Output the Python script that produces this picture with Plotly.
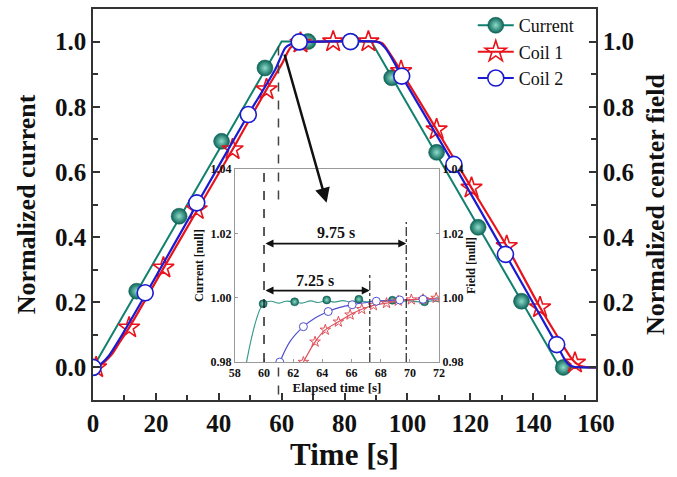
import plotly.graph_objects as go

# ---------------- main chart data ----------------
current_line_x = [0, 60, 88.5, 148.5, 160]
current_line_y = [0, 1.0, 1.0, 0.0, 0.0]
current_mk_x = [0, 13.9, 27.4, 40.9, 54.7, 68.4, 82.1, 95.0, 109.3, 122.5, 136.3, 149.6]
current_mk_y = [0, 0.234, 0.464, 0.694, 0.919, 1.0, 1.0, 0.889, 0.66, 0.43, 0.203, 0.0]

coil1_line_x = [0, 2, 4, 6, 8, 11.5, 22.4, 33, 44.4, 55.2, 60, 62.7, 64.2, 65.9, 67.5, 69.2, 71,
                72, 90, 92, 94, 98, 109.3, 120.4, 131.6, 142.2, 150, 152, 153.5, 155, 157, 160]
coil1_line_y = [0, 0.004, 0.02, 0.04, 0.07, 0.122, 0.304, 0.48, 0.669, 0.853, 0.93, 0.98, 0.99,
                0.9947, 0.9976, 0.999, 0.9995, 1.0, 1.0, 0.995, 0.97, 0.909, 0.73, 0.551, 0.372,
                0.184, 0.06, 0.03, 0.014, 0.005, 0.001, 0.0]
coil1_mk_x = [1.0, 11.5, 22.4, 33.0, 44.4, 55.2, 66.0, 76.4, 87.6, 98.0, 109.3, 120.4, 131.6, 142.2, 153.3]
coil1_mk_y = [0.0, 0.122, 0.306, 0.485, 0.669, 0.853, 0.996, 1.0, 1.0, 0.909, 0.73, 0.551, 0.372, 0.184, 0.014]

coil2_line_x = [0, 1.5, 3, 5, 8, 17.1, 33, 49.4, 58, 61.1, 62.7, 64.4, 66, 67.7, 69.3, 71, 72,
                90, 91.5, 93, 95, 98.2, 114.8, 131.2, 147.5, 150, 151.5, 153, 160]
coil2_line_y = [0, 0.005, 0.015, 0.035, 0.08, 0.23, 0.5, 0.776, 0.915, 0.98, 0.991, 0.9957, 0.9978,
                0.9989, 0.9993, 0.9995, 1.0, 1.0, 0.995, 0.98, 0.95, 0.894, 0.623, 0.347, 0.07,
                0.025, 0.008, 0.002, 0.0]
coil2_mk_x = [0, 16.6, 33.0, 49.4, 65.6, 81.9, 98.2, 114.8, 131.2, 147.5]
coil2_mk_y = [0, 0.229, 0.505, 0.776, 0.999, 1.0, 0.894, 0.623, 0.347, 0.07]

# ---------------- inset data (zoom 58-72 s) ----------------
in_cur_x = [58.8, 59.94, 60.5, 61.0, 61.5, 62.1, 62.6, 63.2, 63.7, 64.3, 64.8, 65.4, 65.9, 66.5,
            67.0, 67.6, 68.2, 68.8, 69.3, 69.9, 70.4, 71.0, 71.5, 72.0]
in_cur_y = [0.98, 0.9981, 0.9989, 0.9983, 0.9989, 0.9987, 0.9983, 0.9990, 0.9985, 0.9991, 0.9986,
            0.9991, 0.9987, 0.9992, 0.9987, 0.9991, 0.9988, 0.9992, 0.9988, 0.9991, 0.9988, 0.9987,
            0.9990, 0.9988]
in_cur_mk_x = [59.94, 62.1, 64.3, 66.5, 68.8, 71.0]
in_cur_mk_y = [0.9981, 0.9987, 0.9993, 0.9995, 0.9992, 0.9987]

in_c1_x = [62.7, 63.5, 64.2, 65.1, 65.9, 66.7, 67.5, 68.4, 69.2, 70.1, 70.9, 71.8, 72.0]
in_c1_y = [0.98, 0.9863, 0.99, 0.9925, 0.9947, 0.9964, 0.9976, 0.9983, 0.999, 0.9994, 0.9995,
           0.9999, 0.9999]
in_c1_mk_x = [62.7, 63.5, 64.2, 65.1, 65.9, 66.7, 67.5, 68.4, 69.2, 70.1, 70.9, 71.8]
in_c1_mk_y = [0.98, 0.9863, 0.99, 0.9925, 0.9947, 0.9964, 0.9976, 0.9983, 0.999, 0.9994, 0.9995, 0.9999]

in_c2_x = [61.08, 61.8, 62.7, 63.5, 64.4, 65.2, 66.04, 67.7, 69.3, 70.9, 72.0]
in_c2_y = [0.98, 0.9865, 0.991, 0.9937, 0.9957, 0.997, 0.9978, 0.9989, 0.9993, 0.9995, 0.9996]
in_c2_mk_x = [61.08, 62.7, 64.4, 66.04, 67.7, 69.3, 70.9]
in_c2_mk_y = [0.98, 0.991, 0.9957, 0.9978, 0.9989, 0.9993, 0.9995]

series_names = ["Current", "Coil 1", "Coil 2"]

TEAL = "#11806f"
RED = "#e8141c"
BLUE = "#1a1ad0"
FONT = "Liberation Serif"

fig = go.Figure()

teal_marker = dict(symbol="circle", size=16, color="#0a6457",
                   gradient=dict(type="radial", color="#8fdccb"),
                   line=dict(color="#0b5a4e", width=0.5))
red_marker = dict(symbol="star-open", size=16, color=RED, line=dict(color=RED, width=1.6))
blue_marker = dict(symbol="circle", size=16, color="white", line=dict(color=BLUE, width=1.6))

# main lines
fig.add_trace(go.Scatter(x=current_line_x, y=current_line_y, mode="lines",
                         line=dict(color=TEAL, width=2), showlegend=False, hoverinfo="skip"))
fig.add_trace(go.Scatter(x=current_mk_x, y=current_mk_y, mode="markers",
                         marker=teal_marker, showlegend=False))
fig.add_trace(go.Scatter(x=coil1_line_x, y=coil1_line_y, mode="lines",
                         line=dict(color=RED, width=2.2, shape="spline", smoothing=0.6),
                         showlegend=False, hoverinfo="skip"))
fig.add_trace(go.Scatter(x=coil1_mk_x, y=coil1_mk_y, mode="markers",
                         marker=red_marker, showlegend=False))
fig.add_trace(go.Scatter(x=coil2_line_x, y=coil2_line_y, mode="lines",
                         line=dict(color=BLUE, width=2.2, shape="spline", smoothing=0.6),
                         showlegend=False, hoverinfo="skip"))
fig.add_trace(go.Scatter(x=coil2_mk_x, y=coil2_mk_y, mode="markers",
                         marker=blue_marker, showlegend=False))

# legend entries
for name, col, mk in zip(series_names, [TEAL, RED, BLUE], [teal_marker, red_marker, blue_marker]):
    fig.add_trace(go.Scatter(x=[None], y=[None], mode="lines+markers", name=name,
                             line=dict(color=col, width=2), marker=mk))

# right axis carrier (invisible)
fig.add_trace(go.Scatter(x=[None], y=[None], yaxis="y2", showlegend=False))

# inset traces
small_teal = dict(teal_marker, size=8)
small_red = dict(symbol="star-open", size=8, color="#e0505a", line=dict(color="#e0505a", width=1))
small_blue = dict(symbol="circle", size=8, color="white", line=dict(color="#5050d0", width=1))
fig.add_trace(go.Scatter(x=in_cur_x, y=in_cur_y, xaxis="x3", yaxis="y3", mode="lines",
                         line=dict(color="#3a9a8a", width=1.2, shape="spline"), showlegend=False))
fig.add_trace(go.Scatter(x=in_cur_mk_x, y=in_cur_mk_y, xaxis="x3", yaxis="y3", mode="markers",
                         marker=small_teal, showlegend=False))
fig.add_trace(go.Scatter(x=in_c2_x, y=in_c2_y, xaxis="x3", yaxis="y3", mode="lines",
                         line=dict(color="#5050d0", width=1.2, shape="spline"), showlegend=False))
fig.add_trace(go.Scatter(x=in_c1_x, y=in_c1_y, xaxis="x3", yaxis="y3", mode="lines",
                         line=dict(color="#e0505a", width=1.2, shape="spline"), showlegend=False))
fig.add_trace(go.Scatter(x=in_c1_mk_x, y=in_c1_mk_y, xaxis="x3", yaxis="y3", mode="markers",
                         marker=small_red, showlegend=False))
fig.add_trace(go.Scatter(x=in_c2_mk_x, y=in_c2_mk_y, xaxis="x3", yaxis="y3", mode="markers",
                         marker=small_blue, showlegend=False))
fig.add_trace(go.Scatter(x=[None], y=[None], xaxis="x3", yaxis="y4", showlegend=False))

bold = dict(family=FONT, color="#111", weight="bold")
tickfont_main = dict(bold, size=25)
tickfont_in = dict(bold, size=12)

main_y = dict(range=[-0.1, 1.1], dtick=0.2, tick0=0, tickformat=".1f", ticks="inside",
              ticklen=7, tickwidth=1.5, tickcolor="#333", automargin=False,
              minor=dict(dtick=0.1, tick0=0, ticks="inside", ticklen=5, tickcolor="#333"),
              showline=True, linecolor="#333", linewidth=1.5, showgrid=False, zeroline=False,
              tickfont=tickfont_main)
in_y = dict(range=[0.98, 1.04], dtick=0.02, tick0=0.98, tickformat=".2f", ticks="inside",
            ticklen=3, tickcolor="#999", showline=True, linecolor="#999", linewidth=1,
            automargin=False, showgrid=False, zeroline=False, tickfont=tickfont_in)

fig.update_layout(
    width=677, height=477,
    margin=dict(l=93, r=81, t=9, b=77, autoexpand=False),
    paper_bgcolor="white", plot_bgcolor="white",
    showlegend=True,
    legend=dict(x=0.755, y=1.005, xanchor="left", yanchor="top", bgcolor="rgba(0,0,0,0)",
                font=dict(family=FONT, size=18, color="#111"), tracegroupgap=0,
                itemwidth=36),
    xaxis=dict(range=[0, 160], dtick=20, tick0=0, ticks="inside", ticklen=7, tickwidth=1.5,
               tickcolor="#333", automargin=False,
               minor=dict(dtick=10, tick0=0, ticks="inside", ticklen=5, tickcolor="#333"),
               showline=True, linecolor="#333", linewidth=1.5, mirror=True,
               showgrid=False, zeroline=False, tickfont=tickfont_main,
               title=dict(text="Time [s]", font=dict(bold, size=31), standoff=8)),
    yaxis=dict(main_y, title=dict(text="Normalized current", font=dict(bold, size=26), standoff=12)),
    yaxis2=dict(main_y, overlaying="y", side="right", anchor="x",
                title=dict(text="Normalized center field", font=dict(bold, size=26), standoff=12)),
    xaxis3=dict(domain=[0.282, 0.688], anchor="y3", range=[58, 72], dtick=2, tick0=58,
                ticks="inside", ticklen=3, tickcolor="#999", showline=True, linecolor="#999",
                linewidth=1, mirror=True, showgrid=False, zeroline=False, tickfont=tickfont_in,
                automargin=False,
                title=dict(text="Elapsed time [s]", font=dict(bold, size=13), standoff=2)),
    yaxis3=dict(in_y, domain=[0.097, 0.591], anchor="x3",
                title=dict(text="Current [null]", font=dict(bold, size=12), standoff=4)),
    yaxis4=dict(in_y, overlaying="y3", side="right", anchor="x3",
                title=dict(text="Field [null]", font=dict(bold, size=12), standoff=4)),
)

shapes = [
    # main vertical dashed marker at the end of the ramp (split around inset)
    dict(type="line", xref="x", yref="y", x0=59, x1=59, y0=0.985, y1=0.494,
         line=dict(color="#444", width=1.5, dash="dash")),
    dict(type="line", xref="x", yref="y", x0=59, x1=59, y0=0.0, y1=-0.1,
         line=dict(color="#444", width=1.5, dash="dash")),
    # inset reference lines
    dict(type="line", xref="x3", yref="y3", x0=60, x1=60, y0=0.98, y1=1.04,
         line=dict(color="#222", width=1.5, dash="dash")),
    dict(type="line", xref="x3", yref="y3", x0=67.25, x1=67.25, y0=0.98, y1=1.0075,
         line=dict(color="#222", width=1.2, dash="dashdot")),
    dict(type="line", xref="x3", yref="y3", x0=69.75, x1=69.75, y0=0.98, y1=1.0235,
         line=dict(color="#222", width=1.2, dash="dashdot")),
]
fig.update_layout(shapes=shapes)

annotations = [
    dict(x=74.3, y=0.505, ax=60.8, ay=0.965, xref="x", yref="y", axref="x", ayref="y",
         text="", showarrow=True, arrowhead=2, arrowsize=1.2, arrowwidth=2.5, arrowcolor="#111"),
    dict(x=69.75, y=1.0168, ax=60, ay=1.0168, xref="x3", yref="y3", axref="x3", ayref="y3",
         text="", showarrow=True, arrowhead=2, arrowside="end+start", arrowsize=1,
         arrowwidth=1.6, arrowcolor="#111"),
    dict(x=67.25, y=1.0022, ax=60, ay=1.0022, xref="x3", yref="y3", axref="x3", ayref="y3",
         text="", showarrow=True, arrowhead=2, arrowside="end+start", arrowsize=1,
         arrowwidth=1.6, arrowcolor="#111"),
    dict(x=64.96, y=1.0203, xref="x3", yref="y3", text="9.75 s", showarrow=False,
         font=dict(bold, size=16)),
    dict(x=63.48, y=1.0054, xref="x3", yref="y3", text="7.25 s", showarrow=False,
         font=dict(bold, size=16)),
]
fig.update_layout(annotations=annotations)

fig.write_html("out.html")
